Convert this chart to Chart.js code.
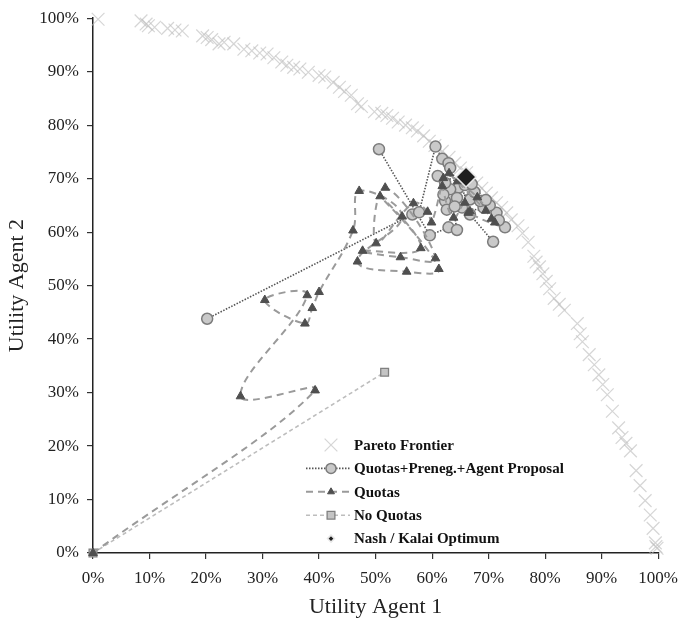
<!DOCTYPE html>
<html>
<head>
<meta charset="utf-8">
<script src="https://cdn.jsdelivr.net/npm/chart.js@4/dist/chart.umd.min.js"></script>
<style>
  html, body { margin: 0; padding: 0; background: #fff; }
  #wrap { width: 687px; height: 621px; }
</style>
</head>
<body>
<div id="wrap"><canvas id="chart" width="687" height="621"></canvas></div>
<script>
'use strict';

// ─── Data (percent) ───────────────────────────────────────────────────────────
const paretoX = [0.9, 8.5, 9.4, 9.8, 10.9, 13.2, 14.5, 15.8, 19.4, 20.2, 21.0, 22.3, 23.2, 24.9,
  26.7, 28.1, 29.5, 30.8, 32.0, 33.4, 34.3, 35.5, 36.6, 38.1, 40.0, 41.0, 42.5, 43.6, 44.5, 45.7,
  46.8, 47.5, 49.8, 51.1, 52.0, 53.0, 54.0, 55.3, 56.5, 57.4, 58.5, 59.5, 60.5, 61.8, 63.0, 64.0,
  65.0, 66.1, 67.9, 68.8, 69.6, 70.5, 71.4, 72.3, 73.2, 74.0, 75.2, 76.0, 77.0, 78.0, 78.4, 79.0,
  79.6, 80.2, 80.8, 81.6, 82.5, 83.4, 85.7, 86.2, 86.6, 87.8, 88.7, 89.5, 90.2, 91.0, 91.9, 93.0,
  93.6, 94.3, 95.1, 96.1, 96.8, 97.7, 98.6, 99.1, 99.5, 99.6, 99.8];
const paretoY = [99.8, 99.5, 98.9, 98.6, 98.3, 98.1, 97.8, 97.6, 96.7, 96.4, 96.0, 95.2, 95.5, 95.2,
  94.2, 93.9, 93.5, 93.3, 92.6, 91.8, 91.2, 90.8, 90.5, 89.9, 89.3, 89.0, 88.0, 87.1, 86.3, 85.6,
  84.0, 83.5, 82.5, 82.2, 81.8, 81.3, 80.6, 80.0, 79.5, 78.9, 78.0, 77.0, 76.2, 75.1, 74.0, 72.9,
  72.0, 71.1, 69.2, 68.2, 67.3, 66.4, 65.5, 64.6, 63.6, 62.3, 61.2, 59.8, 58.1, 55.5, 54.4, 53.5,
  52.2, 50.8, 49.4, 47.6, 46.5, 45.4, 42.9, 41.0, 39.5, 37.1, 35.2, 33.3, 31.5, 29.6, 26.5, 23.4,
  21.6, 20.5, 19.1, 15.4, 12.6, 9.8, 7.1, 4.6, 1.9, 1.2, 0.9];

// proposal runs, null = break in the line
const prenegX = [20.2, 56.5, 57.7, 60.6, 61.8, 62.9, 64.7, 66.7, 69.1, null,
  50.6, 59.6, 62.9, 64.4, 63.2, 63.2, 65.3, 71.4, 72.9, null,
  70.8, 66.7, 62.3, 62.6, 62.3, 64.4, 67.5, 68.5, 70.2, null,
  61.0, 62.0, 64.0, 65.8, 67.0, 69.5, 71.8];
const prenegY = [43.8, 63.3, 63.7, 76.0, 73.7, 72.9, 68.3, 66.1, 64.6, null,
  75.5, 59.4, 60.9, 60.4, 68.0, 72.0, 64.6, 63.6, 60.9, null,
  58.2, 63.3, 65.8, 64.2, 69.2, 66.4, 67.5, 65.8, 65.0, null,
  70.5, 67.0, 64.8, 68.8, 69.0, 66.0, 62.2];

const quotasX = [0, 39.3, 26.1, 37.9, 30.4, 37.5, 38.8, 40.0, 46.0, 47.1, 54.7, 46.8, 55.5, 61.2,
  50.8, 58.0, 47.7, 54.4, 60.6, 51.7, 50.1, 56.7, 59.2, 59.9, 62.0, 61.8, 63.8, 65.8, 66.7, 66.4,
  71.1, 68.0, 64.5, 63.0, 69.5, 70.5];
const quotasY = [0, 30.4, 29.3, 48.2, 47.3, 42.9, 45.8, 48.8, 60.3, 67.7, 62.9, 54.5, 52.6, 53.1,
  66.7, 57.0, 56.5, 55.3, 55.1, 68.3, 57.9, 65.4, 63.8, 61.8, 70.1, 68.6, 62.7, 65.5, 63.9, 63.6,
  61.8, 66.5, 69.5, 71.0, 64.0, 62.5];

const noQuotasX = [0, 51.6];
const noQuotasY = [0, 33.8];

const nashX = [66.0];
const nashY = [70.3];

const seriesNames = ['Pareto Frontier', 'Quotas+Preneg.+Agent Proposal', 'Quotas', 'No Quotas',
  'Nash / Kalai Optimum'];

// ─── Helpers ──────────────────────────────────────────────────────────────────
const pts = (xs, ys) => xs.map((x, i) => ({ x: x, y: ys[i] }));
const SERIF = '"Liberation Serif", "DejaVu Serif", serif';

// Legend drawn inside the plot area, line sample + marker like the original
const innerLegend = {
  id: 'innerLegend',
  afterDraw(chart) {
    const ctx = chart.ctx;
    const x0 = 306, x1 = 350, mx = 331, tx = 354, y0 = 445, dy = 23.4;
    chart.data.datasets.forEach((ds, i) => {
      const y = y0 + i * dy;
      ctx.save();
      if (ds.showLine) {
        ctx.strokeStyle = ds.borderColor;
        ctx.lineWidth = ds.borderWidth;
        ctx.setLineDash(ds.borderDash || []);
        ctx.beginPath();
        ctx.moveTo(x0, y);
        ctx.lineTo(x1, y);
        ctx.stroke();
      }
      ctx.setLineDash([]);
      ctx.fillStyle = ds.pointBackgroundColor;
      ctx.strokeStyle = ds.pointBorderColor;
      ctx.lineWidth = ds.pointBorderWidth;
      Chart.helpers.drawPoint(ctx, {
        pointStyle: ds.pointStyle,
        radius: ds.legendRadius,
        rotation: 0,
        borderWidth: ds.pointBorderWidth,
      }, mx, y);
      ctx.fillStyle = '#111';
      ctx.font = 'bold 15px ' + SERIF;
      ctx.textBaseline = 'middle';
      ctx.textAlign = 'left';
      ctx.fillText(seriesNames[i], tx, y + 1);
      ctx.restore();
    });
  },
};

// ─── Chart ────────────────────────────────────────────────────────────────────
new Chart(document.getElementById('chart'), {
  type: 'scatter',
  data: {
    datasets: [
      {
        label: seriesNames[0], data: pts(paretoX, paretoY), order: 4,
        showLine: false, pointStyle: 'crossRot', pointRadius: 9, legendRadius: 9,
        pointBackgroundColor: 'rgba(190,190,190,0.65)', pointBorderColor: 'rgba(190,190,190,0.65)',
        pointBorderWidth: 1.2, clip: false,
      },
      {
        label: seriesNames[1], data: pts(prenegX, prenegY), order: 2,
        showLine: true, spanGaps: false, borderColor: '#555', borderWidth: 1.6, borderDash: [1.5, 1.5],
        pointStyle: 'circle', pointRadius: 5.5, legendRadius: 5,
        pointBackgroundColor: '#c9c9c9', pointBorderColor: '#7c7c7c', pointBorderWidth: 1.5,
        clip: false,
      },
      {
        label: seriesNames[2], data: pts(quotasX, quotasY), order: 1,
        showLine: true, tension: 0.4, borderColor: '#9a9a9a', borderWidth: 2, borderDash: [7, 5],
        pointStyle: 'triangle', pointRadius: 5, legendRadius: 4,
        pointBackgroundColor: '#4f4f4f', pointBorderColor: '#4f4f4f', pointBorderWidth: 1,
        clip: false,
      },
      {
        label: seriesNames[3], data: pts(noQuotasX, noQuotasY), order: 3,
        showLine: true, borderColor: '#bdbdbd', borderWidth: 1.6, borderDash: [4, 3],
        pointStyle: 'rect', pointRadius: 5.5, legendRadius: 5.5,
        pointBackgroundColor: '#c4c4c4', pointBorderColor: '#808080', pointBorderWidth: 1.3,
        clip: false,
      },
      {
        label: seriesNames[4], data: pts(nashX, nashY), order: 0,
        showLine: false, pointStyle: 'rectRot', pointRadius: 10, legendRadius: 3.5,
        pointBackgroundColor: '#1e1e1e', pointBorderColor: '#e8e8e8', pointBorderWidth: 1.5,
        clip: false,
      },
    ],
  },
  options: {
    responsive: false,
    animation: false,
    layout: { padding: { top: 14, right: 24, left: 0, bottom: 0 } },
    plugins: { legend: { display: false }, tooltip: { enabled: false } },
    scales: {
      x: {
        type: 'linear', min: 0, max: 100,
        afterFit: (s) => { s.height = 68; },
        grid: { display: true, drawOnChartArea: false, drawTicks: true, tickLength: 6, color: '#333', lineWidth: 1.2 },
        border: { display: true, color: '#222', width: 1.5 },
        ticks: { stepSize: 10, padding: 9, color: '#222', font: { family: SERIF, size: 17 },
          callback: (v) => v + '%' },
        title: { display: true, text: 'Utility Agent 1', color: '#222',
          font: { family: SERIF, size: 22 }, padding: { top: 0, bottom: 1 } },
      },
      y: {
        type: 'linear', min: 0, max: 100,
        afterFit: (s) => { s.width = 93; },
        grid: { display: true, drawOnChartArea: false, drawTicks: true, tickLength: 6, color: '#333', lineWidth: 1.2 },
        border: { display: true, color: '#222', width: 1.5 },
        ticks: { stepSize: 10, padding: 8, color: '#222', font: { family: SERIF, size: 17 },
          callback: (v) => v + '%' },
        title: { display: true, text: 'Utility Agent 2', color: '#222',
          font: { family: SERIF, size: 22 }, padding: { top: 4, bottom: 0 } },
      },
    },
  },
  plugins: [innerLegend],
});
</script>
</body>
</html>
